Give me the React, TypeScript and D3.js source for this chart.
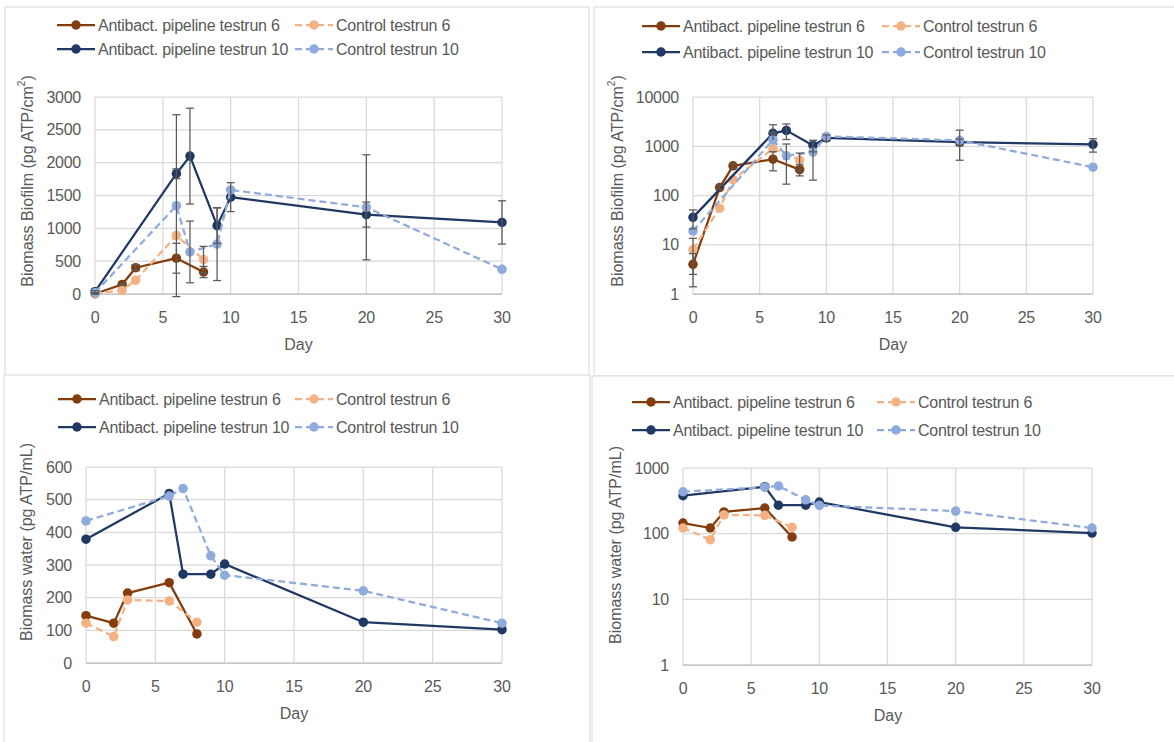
import React from 'react';
import * as d3 from 'd3';

// ---------- data ----------
const days6 = [0, 2, 3, 6, 8];
const days10 = [0, 6, 7, 9, 10, 20, 30];

const biofilmAnti6 = [4, 145, 400, 545, 335];
const biofilmCtrl6 = [8, 55, 210, 890, 525];
const biofilmAnti10 = [36, 1832, 2100, 1040, 1475, 1210, 1090];
const biofilmCtrl10 = [19, 1345, 640, 760, 1585, 1320, 376];

const biofilmAnti6Err = [2.6, 15, 45, 228, 85];
const biofilmCtrl6Err = [5.5, 0, 0, 0, 200];
const biofilmAnti10Err = [15, 75, 730, 270, 220, 190, 330];
const biofilmCtrl10Err = [0, 1385, 470, 555, 0, 800, 0];

const waterAnti6 = [145, 122, 214, 246, 89];
const waterCtrl6 = [122, 81, 193, 190, 125];
const waterAnti10 = [379, 519, 272, 272, 303, 125, 102];
const waterCtrl10 = [435, 511, 534, 328, 269, 221, 122];

const xTicks = [0, 5, 10, 15, 20, 25, 30];
const biofilmLinTicks = [0, 500, 1000, 1500, 2000, 2500, 3000];
const biofilmLogTicks = [1, 10, 100, 1000, 10000];
const waterLinTicks = [0, 100, 200, 300, 400, 500, 600];
const waterLogTicks = [1, 10, 100, 1000];

const seriesNames = [
  'Antibact. pipeline testrun 6',
  'Control testrun 6',
  'Antibact. pipeline testrun 10',
  'Control testrun 10',
];
const seriesColors = ['#843C0C', '#F4B183', '#203864', '#8FAADC'];
const seriesDashed = [false, true, false, true];

const FONT = '"Liberation Sans", Arial, sans-serif';
const TXT = '#595959';
const GRID = '#D9D9D9';

type Series = { days: number[]; values: number[]; errors?: number[] };

type PanelProps = {
  box: { x: number; y: number; w: number; h: number };
  plot: { l: number; r: number; t: number; b: number };
  log: boolean;
  ticks: number[];
  series: Series[];
  legendRows: number[];
  legendCols: number[];
  yTitle: React.ReactNode;
  yTitlePos: { x: number; y: number };
  xTitlePos: { x: number; y: number };
};

function Panel(p: PanelProps) {
  const { plot, log, ticks } = p;
  const x = d3.scaleLinear().domain([0, 30]).range([plot.l, plot.r]);
  const y: any = log
    ? d3.scaleLog().domain([ticks[0], ticks[ticks.length - 1]]).range([plot.b, plot.t])
    : d3.scaleLinear().domain([ticks[0], ticks[ticks.length - 1]]).range([plot.b, plot.t]);
  const line = d3
    .line<[number, number]>()
    .x((d) => x(d[0]))
    .y((d) => y(d[1]));

  const textStyle = { fontFamily: FONT, fontSize: 16, fill: TXT, letterSpacing: -0.25 } as any;
  const titleStyle = { fontFamily: FONT, fontSize: 16, fill: TXT, letterSpacing: 0 } as any;

  return (
    <g>
      <rect x={p.box.x} y={p.box.y} width={p.box.w} height={p.box.h} fill="#fff" stroke={GRID} strokeWidth={1} />
      {/* gridlines */}
      {ticks.map((t) => (
        <line key={'h' + t} x1={plot.l} x2={plot.r} y1={y(t)} y2={y(t)} stroke={GRID} strokeWidth={1.25} />
      ))}
      {xTicks.map((t) => (
        <line key={'v' + t} x1={x(t)} x2={x(t)} y1={plot.t} y2={plot.b} stroke={GRID} strokeWidth={1.25} />
      ))}
      <line x1={plot.l} x2={plot.r} y1={plot.b} y2={plot.b} stroke="#BFBFBF" strokeWidth={1.25} />
      {/* tick labels */}
      {ticks.map((t) => (
        <text key={'yl' + t} x={plot.l - 14} y={y(t)} textAnchor="end" dominantBaseline="central" style={textStyle}>
          {t}
        </text>
      ))}
      {xTicks.map((t) => (
        <text key={'xl' + t} x={x(t)} y={plot.b + 29} textAnchor="middle" style={textStyle}>
          {t}
        </text>
      ))}
      {/* titles */}
      <text x={p.xTitlePos.x} y={p.xTitlePos.y} textAnchor="middle" style={titleStyle}>
        Day
      </text>
      <text
        transform={`translate(${p.yTitlePos.x},${p.yTitlePos.y}) rotate(-90)`}
        textAnchor="middle"
        dominantBaseline="central"
        style={titleStyle}
      >
        {p.yTitle}
      </text>
      {/* series */}
      {p.series.map((s, i) => (
        <g key={'s' + i}>
          <path
            d={line(s.days.map((d, j) => [d, s.values[j]] as [number, number])) || ''}
            fill="none"
            stroke={seriesColors[i]}
            strokeWidth={2.25}
            strokeDasharray={seriesDashed[i] ? '7,4' : undefined}
            strokeLinejoin="round"
          />
          {s.days.map((d, j) => (
            <circle key={j} cx={x(d)} cy={y(s.values[j])} r={4.75} fill={seriesColors[i]} />
          ))}
        </g>
      ))}
      {/* error bars */}
      {p.series.map((s, i) =>
        s.errors
          ? s.days.map((d, j) => {
              const e = s.errors![j];
              if (!e) return null;
              const v = s.values[j];
              const hi = v + e;
              const lo = v - e;
              const cx = x(d);
              const yHi = y(hi);
              const loOk = !log || lo > 0;
              const yLo = loOk ? y(lo) : y(v);
              return (
                <g key={'e' + i + '-' + j} stroke="#595959" strokeWidth={1.25}>
                  <line x1={cx} x2={cx} y1={yHi} y2={yLo} />
                  <line x1={cx - 4} x2={cx + 4} y1={yHi} y2={yHi} />
                  {loOk && <line x1={cx - 4} x2={cx + 4} y1={yLo} y2={yLo} />}
                </g>
              );
            })
          : null
      )}
      {/* legend */}
      {seriesNames.map((name, i) => {
        const lx = p.legendCols[i % 2];
        const ly = p.legendRows[Math.floor(i / 2)];
        return (
          <g key={'lg' + i}>
            <line
              x1={lx}
              x2={lx + 38}
              y1={ly}
              y2={ly}
              stroke={seriesColors[i]}
              strokeWidth={2.25}
              strokeDasharray={seriesDashed[i] ? '7,4' : undefined}
            />
            <circle cx={lx + 19} cy={ly} r={4.75} fill={seriesColors[i]} />
            <text x={lx + 41} y={ly} dominantBaseline="central" style={textStyle}>
              {name}
            </text>
          </g>
        );
      })}
    </g>
  );
}

export default function App() {
  const biofilmSeries: Series[] = [
    { days: days6, values: biofilmAnti6, errors: biofilmAnti6Err },
    { days: days6, values: biofilmCtrl6, errors: biofilmCtrl6Err },
    { days: days10, values: biofilmAnti10, errors: biofilmAnti10Err },
    { days: days10, values: biofilmCtrl10, errors: biofilmCtrl10Err },
  ];
  const waterSeries: Series[] = [
    { days: days6, values: waterAnti6 },
    { days: days6, values: waterCtrl6 },
    { days: days10, values: waterAnti10 },
    { days: days10, values: waterCtrl10 },
  ];
  const biofilmTitle = (
    <>
      <tspan>Biomass Biofilm (pg ATP/cm</tspan>
      <tspan dy={-6} fontSize={10}>
        2
      </tspan>
      <tspan dy={6}>)</tspan>
    </>
  );
  const waterTitle = 'Biomass water (pg ATP/mL)';

  return (
    <svg width={1174} height={742} style={{ position: 'absolute', left: 0, top: 0, background: '#fff' }}>
      <rect x={0} y={0} width={1174} height={742} fill="#fff" />
      <Panel
        box={{ x: 5, y: 7, w: 584, h: 369 }}
        plot={{ l: 95, r: 502, t: 97, b: 294 }}
        log={false}
        ticks={biofilmLinTicks}
        series={biofilmSeries}
        legendRows={[25, 49]}
        legendCols={[57, 295]}
        yTitle={biofilmTitle}
        yTitlePos={{ x: 27, y: 181 }}
        xTitlePos={{ x: 298.5, y: 350 }}
      />
      <Panel
        box={{ x: 594, y: 7, w: 590, h: 369 }}
        plot={{ l: 693, r: 1093, t: 97, b: 294 }}
        log={true}
        ticks={biofilmLogTicks}
        series={biofilmSeries}
        legendRows={[26, 52]}
        legendCols={[642, 882]}
        yTitle={biofilmTitle}
        yTitlePos={{ x: 617, y: 181 }}
        xTitlePos={{ x: 893, y: 350 }}
      />
      <Panel
        box={{ x: 4, y: 375, w: 586, h: 380 }}
        plot={{ l: 86, r: 502, t: 467, b: 663 }}
        log={false}
        ticks={waterLinTicks}
        series={waterSeries}
        legendRows={[399, 427]}
        legendCols={[58, 295]}
        yTitle={waterTitle}
        yTitlePos={{ x: 26, y: 542 }}
        xTitlePos={{ x: 294, y: 719 }}
      />
      <Panel
        box={{ x: 592, y: 376, w: 590, h: 380 }}
        plot={{ l: 683, r: 1092, t: 468, b: 665 }}
        log={true}
        ticks={waterLogTicks}
        series={waterSeries}
        legendRows={[402, 430]}
        legendCols={[632, 877]}
        yTitle={waterTitle}
        yTitlePos={{ x: 615, y: 545 }}
        xTitlePos={{ x: 888, y: 721 }}
      />
    </svg>
  );
}
